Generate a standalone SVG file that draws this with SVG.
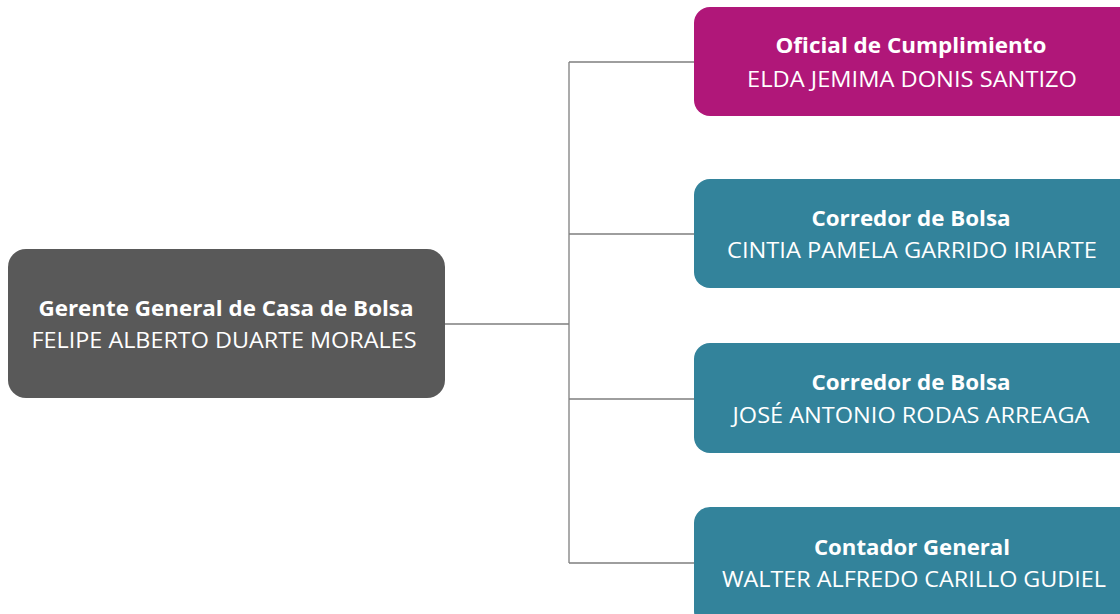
<svg xmlns="http://www.w3.org/2000/svg" width="1120" height="614" viewBox="0 0 1120 614">
<style>
.t{font-family:"Open Sans","Noto Sans","Liberation Sans",sans-serif;font-size:22px;fill:#ffffff;text-anchor:middle}
.b{font-weight:bold}
.n{font-weight:normal}
.ln{stroke:#7f7f7f;stroke-width:1.3;fill:none}
</style>
<rect width="1120" height="614" fill="#ffffff"/>
<g id="connectors">
<path class="ln" d="M445 324H569M569 62V563M569 62H694M569 234H694M569 399H694M569 563H694"/>
</g>
<g id="node-gerente">
<rect x="8" y="249" width="437" height="149" rx="18" fill="#595959"/>
<text class="t b" x="226" y="316" textLength="375" lengthAdjust="spacingAndGlyphs">Gerente General de Casa de Bolsa</text>
<text class="t n" x="224" y="348" textLength="385" lengthAdjust="spacingAndGlyphs">FELIPE ALBERTO DUARTE MORALES</text>
</g>
<g id="node-oficial">
<rect x="694" y="7" width="440" height="109" rx="16" fill="#b01779"/>
<text class="t b" x="911" y="53" textLength="271" lengthAdjust="spacingAndGlyphs">Oficial de Cumplimiento</text>
<text class="t n" x="912" y="87" textLength="330" lengthAdjust="spacingAndGlyphs">ELDA JEMIMA DONIS SANTIZO</text>
</g>
<g id="node-corredor1">
<rect x="694" y="179" width="440" height="109" rx="16" fill="#33839b"/>
<text class="t b" x="911" y="226" textLength="199" lengthAdjust="spacingAndGlyphs">Corredor de Bolsa</text>
<text class="t n" x="912" y="258" textLength="370" lengthAdjust="spacingAndGlyphs">CINTIA PAMELA GARRIDO IRIARTE</text>
</g>
<g id="node-corredor2">
<rect x="694" y="343" width="440" height="110" rx="16" fill="#33839b"/>
<text class="t b" x="911" y="390" textLength="199" lengthAdjust="spacingAndGlyphs">Corredor de Bolsa</text>
<text class="t n" x="911" y="423" textLength="357" lengthAdjust="spacingAndGlyphs">JOSÉ ANTONIO RODAS ARREAGA</text>
</g>
<g id="node-contador">
<rect x="694" y="507" width="440" height="120" rx="16" fill="#33839b"/>
<text class="t b" x="912" y="555" textLength="196" lengthAdjust="spacingAndGlyphs">Contador General</text>
<text class="t n" x="914" y="587" textLength="384" lengthAdjust="spacingAndGlyphs">WALTER ALFREDO CARILLO GUDIEL</text>
</g>
</svg>
